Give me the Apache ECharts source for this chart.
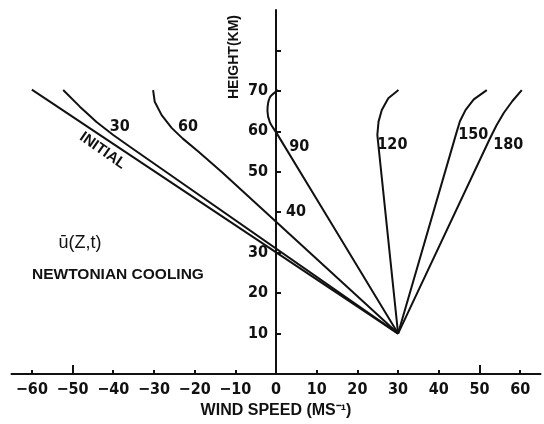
<!DOCTYPE html>
<html>
<head>
<meta charset="utf-8">
<script src="https://cdn.jsdelivr.net/npm/echarts@6/dist/echarts.min.js"></script>
<style>
  html, body { margin: 0; padding: 0; background: #fff; }
  #chart-target { width: 544px; height: 424px; }
</style>
</head>
<body>
<div id="chart-target"></div>
<script>
  // profiles of mean wind u(z,t): [wind speed m/s, height km]
  const initialProfile = [[30, 10], [-60, 70.3]];
  const day30 = [[30, 10], [-35.9, 56.2], [-40, 59.1], [-44.1, 62.3], [-48.2, 66.1], [-52.3, 70.2]];
  const day60 = [[30, 10], [-13.4, 50], [-19.1, 55], [-22.9, 58.2], [-25.6, 60.8], [-28.1, 64], [-29.8, 67.3], [-30.2, 70.2]];
  const day90 = [[30, 10], [0, 59.8], [-1.5, 62.2], [-2.1, 65], [-1.5, 68.4], [0.5, 70.2]];
  const day120 = [[30, 10], [24.9, 59.1], [25.2, 62.4], [26, 65.3], [27.6, 68.2], [30.1, 70.2]];
  const day150 = [[30, 10], [44.3, 59.5], [45.2, 62.5], [46.6, 65.3], [48.6, 67.9], [51.8, 70.2]];
  const day180 = [[30, 10], [52.6, 58.3], [54.2, 61.5], [56, 64.6], [58.1, 67.5], [60.4, 70.2]];

  // curve labels: [x, y, text]
  const curveLabels = [
    [-38.4, 61.1, '30'],
    [-21.6, 61.1, '60'],
    [5.7, 56.2, '90'],
    [28.6, 56.6, '120'],
    [48.5, 59.1, '150'],
    [57.1, 56.6, '180']
  ];
  const initialLabel = [-42.6, 55.2, 'INITIAL'];

  // ticks
  const xTicks = [-60, -50, -40, -30, -20, -10, 0, 10, 20, 30, 40, 50, 60];
  const xLongTicks = [-50, 50];
  const yTicks = [10, 20, 30, 40, 50, 60, 70, 80];
  const yLabelsLeft = [10, 20, 30, 50, 60, 70];
  const yLabelsRight = [40];

  const ink = '#111';
  const numFont = "'Liberation Sans Narrow', 'DejaVu Sans Condensed', sans-serif";
  const txtFont = "'Liberation Sans', Arial, sans-serif";

  const gridLeft = 11.5, gridRight = 3.5;
  // y axis sits on wind speed 0 (middle of the -65..65 range)
  const yShift = -(544 - gridLeft - gridRight) / 2;

  function profile(name, data, smooth) {
    return {
      name: name,
      type: 'line',
      data: data,
      smooth: smooth || false,
      showSymbol: false,
      symbol: 'none',
      lineStyle: { color: ink, width: 2, join: 'round' },
      z: 3
    };
  }

  let myChart = echarts.init(document.getElementById('chart-target'));
  myChart.setOption({
    animation: false,
    grid: { left: gridLeft, right: gridRight, top: 10, bottom: 50, outerBoundsMode: 'none' },
    xAxis: [
      {
        type: 'value',
        min: -65,
        max: 65,
        splitLine: { show: false },
        axisLine: { lineStyle: { color: ink, width: 2 } },
        axisTick: { inside: true, length: 4, customValues: xTicks, lineStyle: { color: ink, width: 2 } },
        axisLabel: {
          customValues: xTicks,
          margin: 8,
          color: ink,
          fontFamily: numFont,
          fontWeight: 'bold',
          fontSize: 16,
          formatter: v => String(v).replace('-', '\u2212')
        },
        name: 'WIND SPEED (MS\u207B\u00B9)',
        nameLocation: 'middle',
        nameGap: 28,
        nameTextStyle: { color: ink, fontFamily: txtFont, fontWeight: 'bold', fontSize: 16 }
      },
      {
        type: 'value',
        min: -65,
        max: 65,
        position: 'bottom',
        splitLine: { show: false },
        axisLine: { show: false },
        axisTick: { inside: true, length: 9, customValues: xLongTicks, lineStyle: { color: ink, width: 2 } },
        axisLabel: { show: false }
      }
    ],
    yAxis: [
      {
        type: 'value',
        min: 0,
        max: 90,
        position: 'left',
        offset: yShift,
        splitLine: { show: false },
        axisLine: { onZero: false, lineStyle: { color: ink, width: 2 } },
        axisTick: { inside: true, length: 5, customValues: yTicks, lineStyle: { color: ink, width: 2 } },
        axisLabel: {
          customValues: yLabelsLeft,
          margin: 8,
          color: ink,
          fontFamily: numFont,
          fontWeight: 'bold',
          fontSize: 16
        }
      },
      {
        type: 'value',
        min: 0,
        max: 90,
        position: 'left',
        offset: yShift,
        splitLine: { show: false },
        axisLine: { show: false, onZero: false },
        axisTick: { show: false },
        axisLabel: {
          inside: true,
          customValues: yLabelsRight,
          margin: 10,
          color: ink,
          fontFamily: numFont,
          fontWeight: 'bold',
          fontSize: 16
        }
      }
    ],
    graphic: [
      {
        type: 'text',
        x: 234,
        y: 57,
        rotation: Math.PI / 2,
        style: {
          text: 'HEIGHT(KM)',
          fill: ink,
          font: 'bold 14px ' + txtFont,
          align: 'center',
          verticalAlign: 'middle'
        }
      },
      {
        type: 'text',
        x: 80,
        y: 243,
        style: {
          text: '\u016B(Z,t)',
          fill: ink,
          font: '18px ' + txtFont,
          align: 'center',
          verticalAlign: 'middle'
        }
      },
      {
        type: 'text',
        x: 32,
        y: 275,
        style: {
          text: 'NEWTONIAN COOLING',
          fill: ink,
          font: 'bold 15.5px ' + txtFont,
          align: 'left',
          verticalAlign: 'middle'
        }
      }
    ],
    series: [
      profile('INITIAL', initialProfile),
      profile('30', day30),
      profile('60', day60),
      profile('90', day90, 0.3),
      profile('120', day120),
      profile('150', day150),
      profile('180', day180),
      {
        name: 'labels',
        type: 'scatter',
        symbolSize: 0,
        silent: true,
        itemStyle: { opacity: 1 },
        data: curveLabels.map(d => ({ value: d })).concat([{
          value: initialLabel,
          label: { rotate: -35, fontFamily: txtFont, fontSize: 15 }
        }]),
        label: {
          show: true,
          position: 'inside',
          color: ink,
          opacity: 1,
          fontFamily: numFont,
          fontWeight: 'bold',
          fontSize: 16,
          formatter: p => p.value[2]
        },
        z: 4
      }
    ]
  });
</script>
</body>
</html>
